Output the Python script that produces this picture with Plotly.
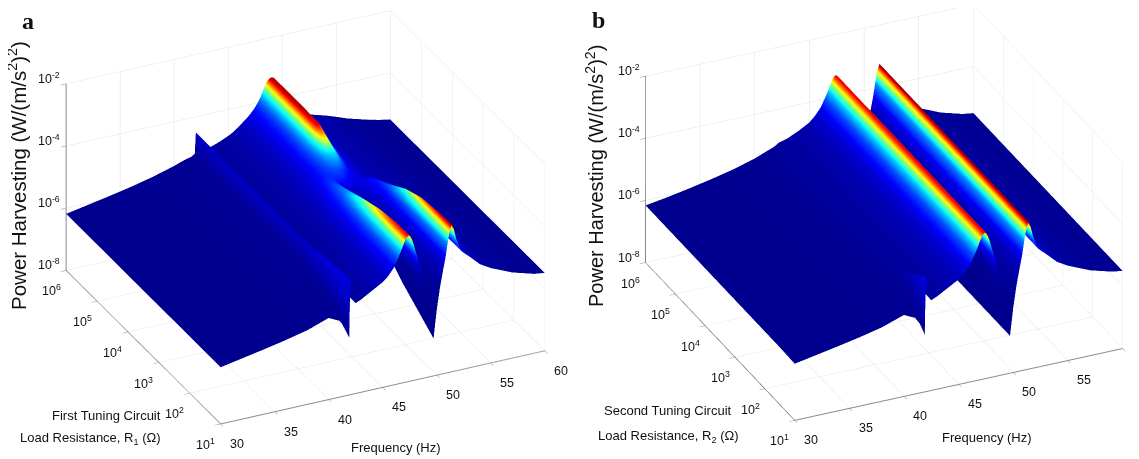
import plotly.graph_objects as go

freq_hz = [30,32,34,36,38,40,41,41.6,41.9,42.0,42.1,42.2,42.5,43,44,45,
           45.5,46,46.4,46.7,47,47.2,47.4,47.6,47.8,48,
           48.2,48.4,48.6,48.8,49,49.2,49.4,49.7,50,50.3,
           50.6,50.8,51,51.2,51.4,51.6,51.8,52,52.3,52.6,53,
           54,55,56,57,58,59,60]

# Estimated log10(power), segment by segment
low_r10 = [-6.18,-6.05,-5.92,-5.78,-5.62,-5.38,-5.55,-5.85,-6.16,-4.3,-4.7,-4.9,-5.1,-5.02,-4.82,-4.62]
low_r30 = [-6.18,-6.05,-5.92,-5.78,-5.62,-5.40,-5.42,-5.55,-5.7,-4.35,-4.7,-4.9,-5.1,-5.03,-4.84,-4.64]
low_r100 = [-6.18,-6.05,-5.92,-5.78,-5.62,-5.42,-5.33,-5.35,-5.4,-4.4,-4.72,-4.92,-5.12,-5.05,-4.86,-4.66]
low_high = [-6.18,-6.05,-5.92,-5.78,-5.62,-5.42,-5.3,-5.25,-5.18,-4.5,-4.75,-4.95,-5.15,-5.12,-5.0,-4.85]

b_low_r30 = [-6.16,-6.05,-5.92,-5.78,-5.62,-5.42,-5.4,-5.5,-5.6,-4.7,-4.85,-4.95,-5.08,-5.02,-4.84,-4.64]
b_low_r100 = [-6.16,-6.05,-5.92,-5.78,-5.62,-5.42,-5.3,-5.25,-5.2,-5.0,-5.0,-5.02,-5.05,-5.02,-4.84,-4.64]
b_low_high = [-6.16,-6.05,-5.92,-5.78,-5.62,-5.42,-5.28,-5.2,-5.15,-5.12,-5.1,-5.08,-5.05,-5.0,-4.84,-4.64]

mid_r10 = [-4.47,-4.25,-3.98,-3.75,-3.5,-3.36,-3.3,-3.36,-3.55,-3.8,-4.05,-4.3,-4.55,-4.8,-5.05,-5.35,-5.75,-6.8,-5.9,-5.2,-4.65,-4.3,-3.85,-3.45,-3.25,-3.45,-3.75,-3.95,-4.2,-4.3,-4.42]
mid_r30 = [-4.47,-4.25,-3.99,-3.76,-3.52,-3.38,-3.32,-3.38,-3.57,-3.82,-4.06,-4.3,-4.52,-4.78,-5.02,-5.28,-5.62,-6.4,-5.7,-5.1,-4.62,-4.3,-3.88,-3.48,-3.3,-3.48,-3.77,-3.97,-4.2,-4.31,-4.43]
mid_r100 = [-4.5,-4.28,-4.03,-3.8,-3.58,-3.46,-3.42,-3.47,-3.62,-3.85,-4.08,-4.3,-4.5,-4.75,-5.0,-5.2,-5.5,-6.0,-5.5,-5.0,-4.6,-4.3,-3.92,-3.55,-3.38,-3.55,-3.8,-4.0,-4.22,-4.33,-4.45]
mid_r300 = [-4.55,-4.32,-4.1,-3.9,-3.7,-3.62,-3.6,-3.64,-3.75,-3.95,-4.15,-4.33,-4.5,-4.7,-4.9,-5.05,-5.25,-5.5,-5.25,-4.95,-4.6,-4.32,-4.02,-3.72,-3.6,-3.7,-3.9,-4.08,-4.28,-4.38,-4.5]
mid_r1k = [-4.6,-4.42,-4.22,-4.08,-3.95,-3.88,-3.85,-3.85,-3.92,-4.05,-4.2,-4.33,-4.47,-4.6,-4.72,-4.82,-4.88,-4.9,-4.85,-4.7,-4.52,-4.35,-4.15,-4.0,-3.95,-3.98,-4.1,-4.22,-4.38,-4.48,-4.6]
mid_r3k = [-4.65,-4.5,-4.35,-4.22,-4.12,-4.07,-4.05,-4.05,-4.08,-4.15,-4.22,-4.3,-4.38,-4.44,-4.48,-4.5,-4.5,-4.48,-4.44,-4.36,-4.28,-4.22,-4.2,-4.22,-4.25,-4.32,-4.4,-4.46,-4.55,-4.62,-4.7]
mid_r6k = [-4.68,-4.55,-4.42,-4.32,-4.22,-4.17,-4.13,-4.1,-4.07,-4.04,-4.0,-3.98,-3.97,-3.98,-4.0,-4.05,-4.12,-4.2,-4.28,-4.34,-4.38,-4.42,-4.45,-4.48,-4.5,-4.53,-4.56,-4.6,-4.65,-4.7,-4.75]
mid_r10k = [-4.7,-4.58,-4.47,-4.38,-4.28,-4.22,-4.15,-4.08,-4.0,-3.93,-3.86,-3.8,-3.75,-3.72,-3.7,-3.73,-3.82,-3.98,-4.12,-4.25,-4.35,-4.4,-4.45,-4.5,-4.53,-4.56,-4.6,-4.63,-4.68,-4.73,-4.78]
mid_r30k = [-4.73,-4.6,-4.5,-4.41,-4.3,-4.22,-4.12,-4.02,-3.92,-3.8,-3.65,-3.5,-3.38,-3.32,-3.3,-3.33,-3.48,-3.72,-3.92,-4.07,-4.2,-4.3,-4.38,-4.45,-4.5,-4.55,-4.6,-4.65,-4.7,-4.75,-4.8]
mid_r1m = [-4.75,-4.62,-4.5,-4.42,-4.32,-4.24,-4.16,-4.06,-3.95,-3.82,-3.65,-3.5,-3.38,-3.3,-3.28,-3.3,-3.45,-3.7,-3.9,-4.05,-4.2,-4.3,-4.38,-4.45,-4.5,-4.55,-4.6,-4.65,-4.7,-4.75,-4.8]

tail_low = [-4.75,-4.95,-5.1,-5.25,-5.35,-5.45,-5.5]
tail_mid = [-4.85,-5.0,-5.12,-5.25,-5.35,-5.44,-5.5]
tail_high = [-4.9,-5.02,-5.15,-5.25,-5.35,-5.43,-5.5]

res_a = [1e1,10**1.5,1e2,10**2.5,1e3,10**3.5,10**3.75,1e4,10**4.5,1e5,1e6]
rows_a = [low_r10+mid_r10+tail_low, low_r30+mid_r30+tail_low, low_r100+mid_r100+tail_low,
          low_high+mid_r300+tail_low, low_high+mid_r1k+tail_mid, low_high+mid_r3k+tail_mid,
          low_high+mid_r6k+tail_mid, low_high+mid_r10k+tail_mid, low_high+mid_r30k+tail_high,
          low_high+mid_r1m+tail_high, low_high+mid_r1m+tail_high]

res_b = [1e1,10**1.5,1e2,1e3,1e6]
rows_b = [low_r10+mid_r10+tail_low, b_low_r30+mid_r10+tail_low, b_low_r100+mid_r10+tail_low,
          b_low_high+mid_r10+tail_low, b_low_high+mid_r10+tail_low]

x_ticks = [30,35,40,45,50,55,60]
r_exps = [1,2,3,4,5,6]
z_exps = [-8,-6,-4,-2]

jet = [[0,"rgb(0,0,143)"],[0.11,"rgb(0,0,255)"],[0.375,"rgb(0,255,255)"],
       [0.625,"rgb(255,255,0)"],[0.875,"rgb(255,0,0)"],[1,"rgb(128,0,0)"]]
P_MAX = 5.5e-4
SANS = "Liberation Sans, Arial, sans-serif"
SERIF = "Liberation Serif, serif"
TICK_FONT = dict(family=SANS, size=12.5, color="#111")

def surface(rows, res, scene):
    power = [[10**v for v in r] for r in rows]
    return go.Surface(x=freq_hz, y=res, z=power, surfacecolor=power, colorscale=jet,
                      cmin=0, cmax=P_MAX, showscale=False, scene=scene, hoverinfo="skip",
                      lighting=dict(ambient=1, diffuse=0, specular=0, fresnel=0, roughness=1))

def axis(**kw):
    d = dict(showbackground=False, showgrid=True, gridcolor="#e3e3e3", gridwidth=1, zeroline=False,
             showspikes=False, showline=True, linecolor="#8a8a8a", linewidth=2, ticks="outside",
             ticklen=6, tickcolor="#8a8a8a", showticklabels=False, title=dict(text=""))
    d.update(kw)
    return d

def tick_labels(freqs):
    common = dict(showarrow=False, font=TICK_FONT)
    labels = []
    for f in freqs:
        labels.append(dict(x=f, y=1, z=-8, text=str(f), xshift=16, yshift=-20, **common))
    for e in r_exps:
        labels.append(dict(x=30, y=e, z=-8, text=f"10<sup>{e}</sup>", xshift=-15, yshift=-20, **common))
    for e in z_exps:
        labels.append(dict(x=30, y=6, z=e, text=f"10<sup>{e}</sup>", xshift=-17, yshift=6, **common))
    return labels

def scene(domain_x, zoom, eye, zr, center, freqs):
    k = 1.9
    return dict(domain=dict(x=domain_x, y=[0,1]),
                aspectmode="manual", aspectratio=dict(x=zoom, y=zoom, z=zr*zoom),
                camera=dict(eye=dict(x=eye[0]*k+center[0], y=eye[1]*k+center[1], z=eye[2]*k),
                            center=dict(x=center[0],y=center[1],z=center[2]),
                            up=dict(x=0,y=0,z=1), projection=dict(type="orthographic")),
                xaxis=axis(range=[30,60], tickmode="array", tickvals=x_ticks),
                yaxis=axis(type="log", range=[1,6], tickmode="array", tickvals=[10**e for e in r_exps]),
                zaxis=axis(type="log", range=[-8,-2], tickmode="array", tickvals=[10.0**e for e in z_exps]),
                annotations=tick_labels(freqs))

fig = go.Figure([surface(rows_a, res_a, "scene"), surface(rows_b, res_b, "scene2")])

def note(text, px, py, size, family=SANS, angle=0, xanchor="center", color="#111"):
    return dict(text=text, x=px/1139, y=1-py/459, xref="paper", yref="paper", showarrow=False,
                xanchor=xanchor, yanchor="middle", textangle=angle,
                font=dict(family=family, size=size, color=color))

ztitle = "Power Harvesting (W/(m/s<sup>2</sup>)<sup>2</sup>)"
annotations = [
    note("<b>a</b>", 20, 13, 24, SERIF), note("<b>b</b>", 590, 12, 24, SERIF),
    note(ztitle, 9, 168, 20.5, SANS, -90), note(ztitle, 586, 168, 20, SANS, -90),
    note("Frequency (Hz)", 388, 439, 13), note("Frequency (Hz)", 979, 429, 13),
    note("First Tuning Circuit", 155, 407, 13, xanchor="right"),
    note("Load Resistance, R<sub>1</sub> (Ω)", 155, 430, 13, xanchor="right"),
    note("Second Tuning Circuit", 726, 402, 13, xanchor="right"),
    note("Load Resistance, R<sub>2</sub> (Ω)", 733, 428, 13, xanchor="right"),
    note("60", 1121, 362, 12.5, xanchor="left"),
]

fig.update_layout(width=1139, height=459, margin=dict(l=0,r=0,t=0,b=0), paper_bgcolor="white",
                  scene=scene([0,0.5225],1.565,(-.388,-.814,.432),0.59,(0,0,-0.1),x_ticks),
                  scene2=scene([0.52,1],1.57,(-.374,-.822,.43),0.59,(-0.042,0.019,-0.125),x_ticks[:-1]),
                  annotations=annotations, showlegend=False)
fig.write_html("out.html")
